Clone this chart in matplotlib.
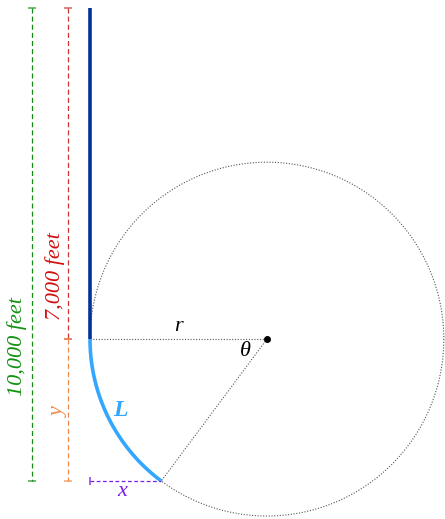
import numpy as np
import matplotlib
matplotlib.use("Agg")
import matplotlib.pyplot as plt

# Geometry of the well (feet)
kickoff_depth = 7000      # vertical section
total_depth = 10000       # total vertical depth
radius_ft = 3740          # radius of build curve
build_drop = total_depth - kickoff_depth   # y = 3000
labels = ["10,000 feet", "7,000 feet", "r", "θ", "L", "x", "y"]

theta_end = np.arcsin(build_drop / radius_ft)
x_end = radius_ft * (1 - np.cos(theta_end))

fig = plt.figure(figsize=(4.45, 5.19), dpi=100)
ax = fig.add_axes([0, 0, 1, 1])
ax.set_xlim(-1903, 7505)
ax.set_ylim(10803, -169)
ax.set_aspect('equal')
ax.axis('off')

serif = 'Liberation Serif'

# circle
t = np.linspace(0, 2 * np.pi, 400)
cx, cy = radius_ft, kickoff_depth
ax.plot(cx + radius_ft * np.cos(t), cy + radius_ft * np.sin(t),
        ls=(0, (1, 1.5)), color='#555555', lw=0.8)
# radius lines
ax.plot([0, cx], [cy, cy], ls=(0, (1, 1.5)), color='#555555', lw=0.8)
ax.plot([cx, x_end], [cy, total_depth], ls=(0, (1, 1.5)), color='#555555', lw=0.8)
ax.plot([cx], [cy], 'o', color='black', ms=4)

# vertical well
ax.plot([0, 0], [0, kickoff_depth], color='#003399', lw=2.6, solid_capstyle='butt')
# arc
ta = np.linspace(0, theta_end, 100)
ax.plot(radius_ft * (1 - np.cos(ta)), kickoff_depth + radius_ft * np.sin(ta),
        color='#33A6FF', lw=2.6, solid_capstyle='butt')

# dimension lines
def dim_v(x, y0, y1, color):
    ax.plot([x, x], [y0, y1], ls=(0, (4, 2.5)), color=color, lw=0.9)
    ax.plot([x, x], [y0, y1], ls='none', marker='_', ms=6, mew=1.2, color=color, alpha=0.7)

dim_v(-1226, 0, total_depth, '#138A13')
dim_v(-465, 0, kickoff_depth, '#CC3333')
dim_v(-465, kickoff_depth, total_depth, '#F08A4B')

ax.plot([0, x_end], [total_depth, total_depth], ls=(0, (3, 2)), color='#7A1FE6', lw=0.9)
ax.plot([0], [total_depth], ls='none', marker='|', ms=6, mew=1.2, color='#7A1FE6', alpha=0.8)

# texts
fs = 16
ax.text(-1540, 7150, labels[0], rotation=90, color='#129212', fontsize=fs,
        family=serif, style='italic', ha='center', va='center')
ax.text(-740, 5666, labels[1], rotation=90, color='#D01010', fontsize=fs,
        family=serif, style='italic', ha='center', va='center')
ax.text(1860, 6740, labels[2], color='black', fontsize=fs,
        family=serif, style='italic', ha='center', va='center')
ax.text(3280, 7270, labels[3], color='black', fontsize=fs,
        family=serif, style='italic', ha='center', va='center')
ax.text(650, 8500, labels[4], color='#33A6FF', fontsize=17, weight='bold',
        family=serif, style='italic', ha='center', va='center')
ax.text(677, 10230, labels[5], color='#7A1FE6', fontsize=fs,
        family=serif, style='italic', ha='center', va='center')
ax.text(-650, 8540, labels[6], rotation=90, color='#F08A4B', fontsize=fs,
        family=serif, style='italic', ha='center', va='center')

fig.savefig('out.png', dpi=100)
